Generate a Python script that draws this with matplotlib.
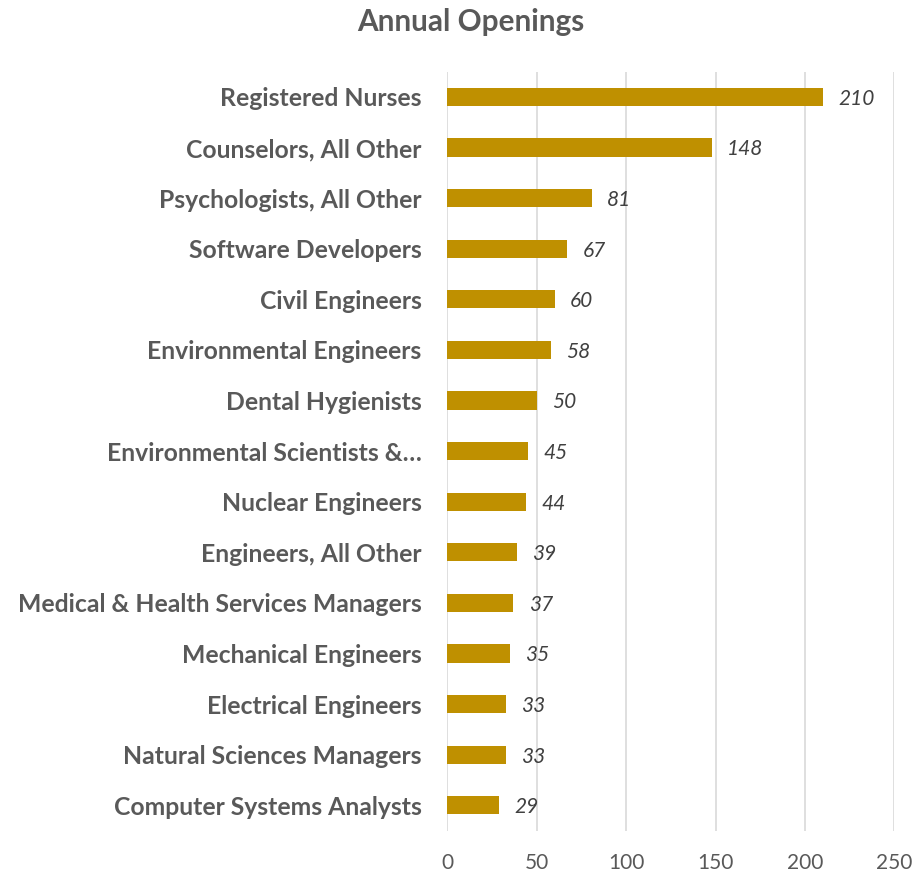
import matplotlib.pyplot as plt

occupations = ["Registered Nurses", "Counselors, All Other", "Psychologists, All Other",
               "Software Developers", "Civil Engineers", "Environmental Engineers",
               "Dental Hygienists", "Environmental Scientists &\u2026", "Nuclear Engineers",
               "Engineers, All Other", "Medical & Health Services Managers",
               "Mechanical Engineers", "Electrical Engineers", "Natural Sciences Managers",
               "Computer Systems Analysts"]
openings = [210, 148, 81, 67, 60, 58, 50, 45, 44, 39, 37, 35, 33, 33, 29]
xticks = [0, 50, 100, 150, 200, 250]

plt.rcParams['font.family'] = ['Lato', 'DejaVu Sans']
grey = '#595959'

fig = plt.figure(figsize=(9.24, 8.73), dpi=100)
ax = fig.add_axes([0.484, 0.0486, 0.484, 0.8694])

pos = list(range(len(occupations)))
ax.barh(pos, openings, height=0.36, color='#BF9000', zorder=3)
ax.set_ylim(len(occupations) - 0.5, -0.5)
ax.set_xlim(0, 250)
ax.set_xticks(xticks)
ax.set_yticks(pos)
ax.set_yticklabels(occupations, fontsize=17.8, fontweight='bold', color=grey)
ax.tick_params(axis='x', labelsize=15, labelcolor=grey, length=0, pad=16)
ax.tick_params(axis='y', length=0, pad=18.5)
ax.grid(axis='x', color='#D9D9D9', linewidth=1.2, zorder=0)
for s in ax.spines.values():
    s.set_visible(False)

for p, v in zip(pos, openings):
    ax.annotate(str(v), (v, p), xytext=(11, 0), textcoords='offset points',
                va='center_baseline', ha='left', fontsize=15, fontstyle='italic', color='#404040')

fig.text(0.51, 0.975, "Annual Openings", ha='center', va='center',
         fontsize=21.4, fontweight='bold', color=grey)

fig.savefig('out.png', dpi=100)
